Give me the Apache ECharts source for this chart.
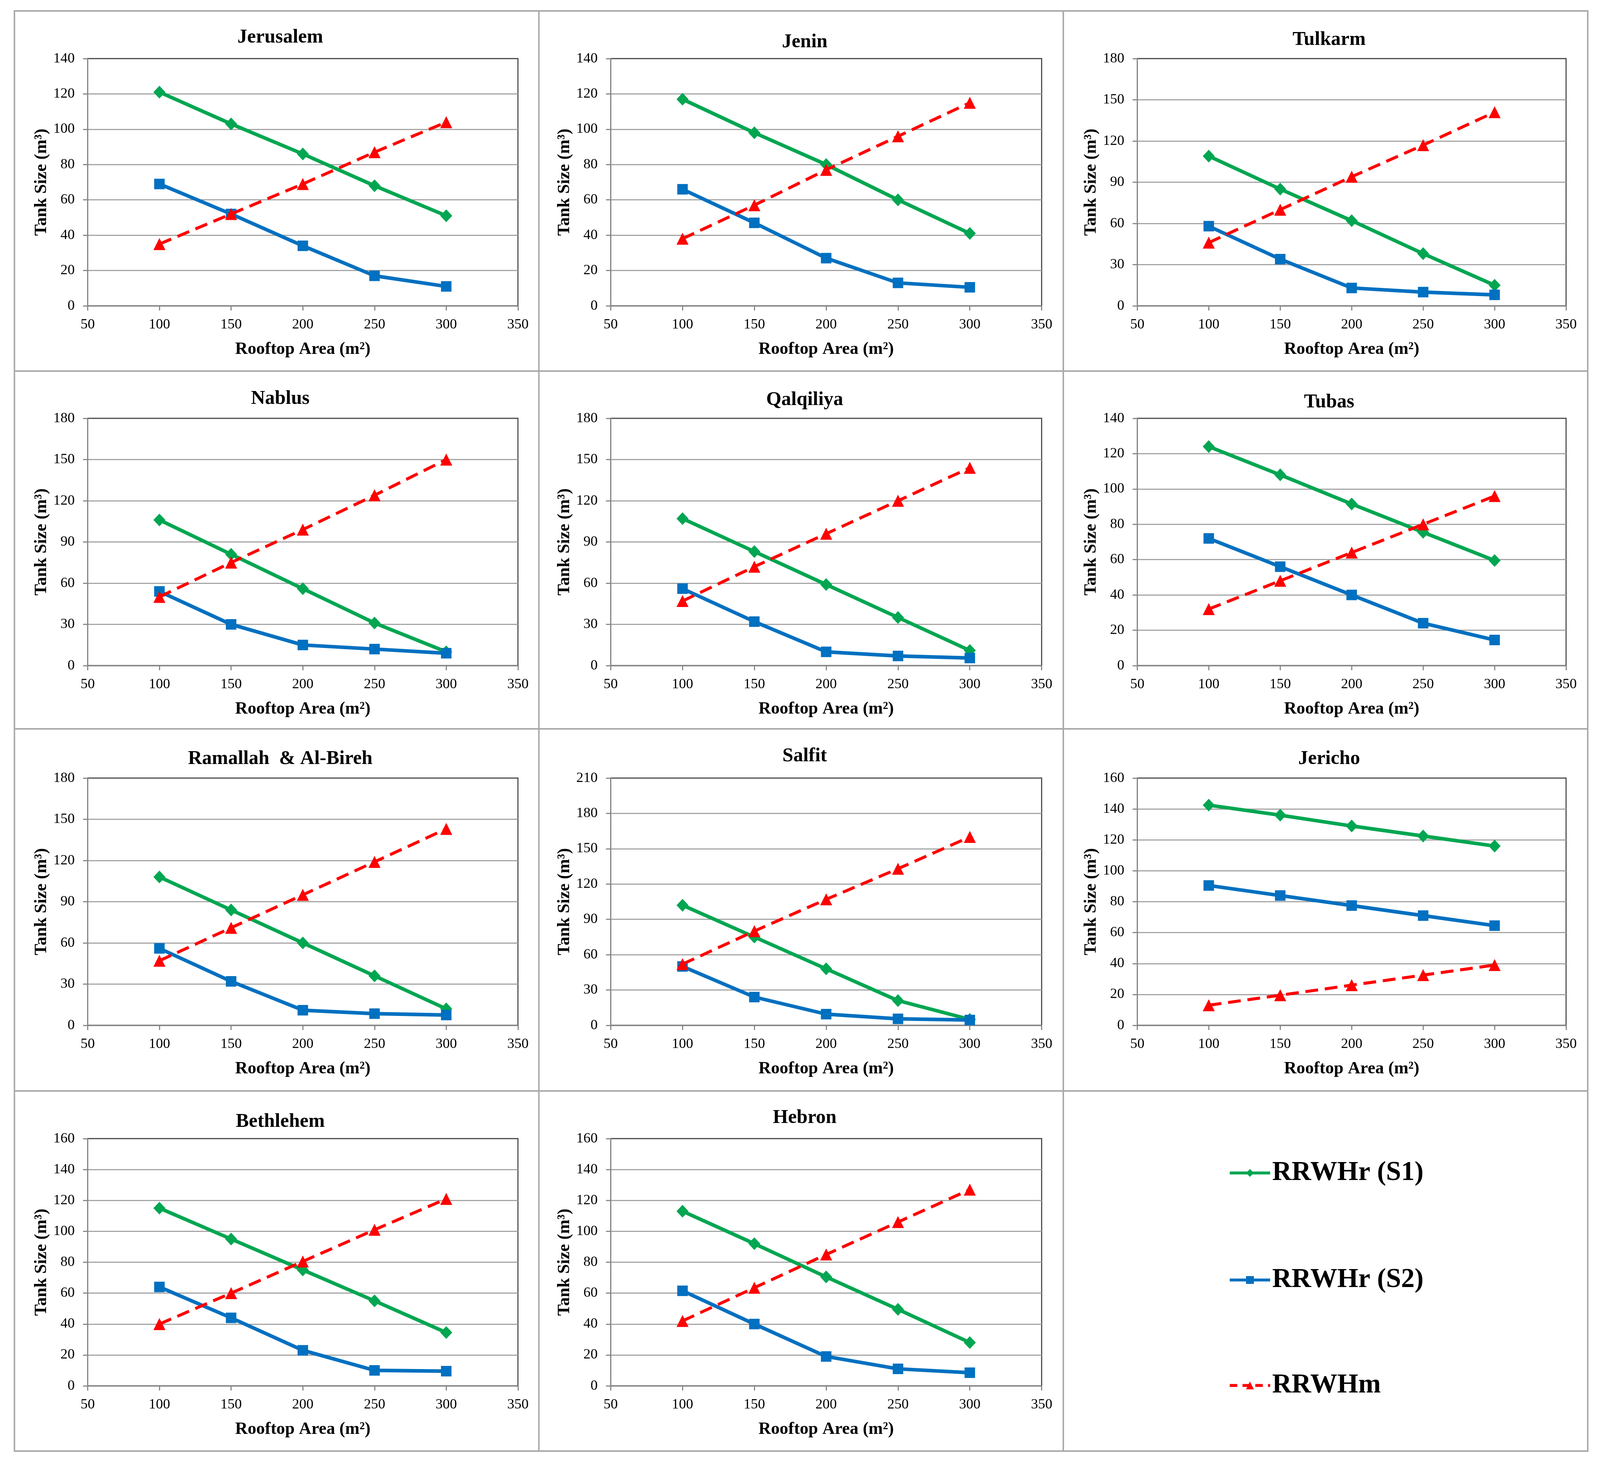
<!DOCTYPE html>
<html>
<head>
<meta charset="utf-8">
<script src="https://cdn.jsdelivr.net/npm/echarts@6/dist/echarts.min.js"></script>
<style>
  html, body { margin: 0; padding: 0; background: #ffffff; overflow: hidden; }
  #chart { width: 100vw; height: 100vh; }
</style>
</head>
<body>
<div id="chart"></div>
<script>
// ---------------- DATA ----------------
const areas = [100, 150, 200, 250, 300];
const districts = ['Jerusalem', 'Jenin', 'Tulkarm', 'Nablus', 'Qalqiliya', 'Tubas',
                   'Ramallah  & Al-Bireh', 'Salfit', 'Jericho', 'Bethlehem', 'Hebron'];
const seriesNames = ['RRWHr (S1)', 'RRWHr (S2)', 'RRWHm'];
const yMax  = [140, 140, 180, 180, 180, 140, 180, 210, 160, 160, 160];
const yStep = [20, 20, 30, 30, 30, 20, 30, 30, 20, 20, 20];
const xTicks = [50, 100, 150, 200, 250, 300, 350];

const s1 = [
  [121, 103, 86, 68, 51],
  [117, 98, 80, 60, 41],
  [109, 85, 62, 38, 15],
  [106, 81, 56, 31, 10],
  [107, 83, 59, 35, 11],
  [124, 108, 91.5, 75.5, 59.5],
  [108, 84, 60, 36, 12],
  [102, 75, 48, 21, 5],
  [142.5, 136, 129, 122.5, 116],
  [115, 95, 75, 55, 34.5],
  [113, 92, 70.5, 49.5, 28]
];
const s2 = [
  [69, 52, 34, 17, 11],
  [66, 47, 27, 13, 10.5],
  [58, 34, 13, 10, 8],
  [54, 30, 15, 12, 9],
  [56, 32, 10, 7, 5.5],
  [72, 56, 40, 24, 14.5],
  [56, 32, 11, 8.5, 7.5],
  [50, 24, 9.5, 5.5, 4.5],
  [90.5, 84, 77.5, 71, 64.5],
  [64, 44, 23, 10, 9.5],
  [61.5, 40, 19, 11, 8.5]
];
const rm = [
  [35, 52, 69, 87, 104],
  [38, 57, 77, 96, 115],
  [46, 70, 94, 117, 141],
  [50, 75, 99, 124, 150],
  [47, 72, 96, 120, 144],
  [32, 48, 64, 80, 96],
  [47, 71, 95, 119, 143],
  [52, 80, 107, 133, 160],
  [13, 19.5, 26, 32.5, 39],
  [40, 60, 80.5, 101, 121],
  [42, 63.5, 85, 106, 127]
];

// ---------------- LAYOUT (reference pixels, scaled to the real viewport) ----------------
const REF_W = 4433, REF_H = 3766;
const cellX = [40, 1493, 2946, 4399];
const cellY = [28, 950, 1866, 2793, 3715];
const gridLeft = [243, 1692, 3151];
const gridWidth = [1192, 1194, 1188];
const gridTop = [150, 1071, 1992, 2915];
const gridHeight = 633;
const titleGap = [54, 42, 48, 50, 47, 41, 49, 56, 49, 43, 53];
const legendCenter = [3003, 3277, 3547];

const el = document.getElementById('chart');
const W = el.clientWidth || window.innerWidth || REF_W;
const H = el.clientHeight || window.innerHeight || REF_H;
const sx = W / REF_W, sy = H / REF_H, fs = Math.sqrt(sx * sy);
const X = v => v * sx, Y = v => v * sy, F = v => v * fs;

const FONT = '"Liberation Serif", "Times New Roman", serif';
const colors = ['#00A651', '#0070C0', '#FF0000'];
const symbols = ['diamond', 'rect', 'triangle'];

const grid = [], xAxis = [], yAxis = [], series = [], title = [];
districts.forEach((name, i) => {
  const row = Math.floor(i / 3), col = i % 3;
  grid.push({
    left: X(gridLeft[col]), top: Y(gridTop[row]), width: X(gridWidth[col]), height: Y(gridHeight),
    show: true, borderColor: '#4a4a4a', borderWidth: F(3), backgroundColor: 'transparent'
  });
  title.push({
    text: name,
    left: X((cellX[col] + cellX[col + 1]) / 2 + 10),
    top: Y(gridTop[row] - titleGap[i]) - F(28),
    textAlign: 'center',
    padding: 0,
    textStyle: { fontFamily: FONT, fontWeight: 'bold', fontSize: F(52), lineHeight: F(56), color: '#000' }
  });
  xAxis.push({
    type: 'value', gridIndex: i, min: xTicks[0], max: xTicks[xTicks.length - 1], interval: 50,
    axisLine: { show: true, lineStyle: { color: '#868686', width: F(3) } },
    axisTick: { show: true, length: Y(12), lineStyle: { color: '#868686', width: F(3) } },
    axisLabel: { fontFamily: FONT, fontSize: F(38), color: '#000', margin: Y(30) },
    splitLine: { show: false },
    name: 'Rooftop Area (m²)', nameLocation: 'middle', nameGap: Y(90),
    nameTextStyle: { fontFamily: FONT, fontWeight: 'bold', fontSize: F(46), color: '#000' }
  });
  yAxis.push({
    type: 'value', gridIndex: i, min: 0, max: yMax[i], interval: yStep[i],
    axisLine: { show: true, lineStyle: { color: '#868686', width: F(3) } },
    axisTick: { show: true, length: X(13), lineStyle: { color: '#868686', width: F(3) } },
    axisLabel: { fontFamily: FONT, fontSize: F(38), color: '#000', margin: X(36) },
    splitLine: { show: true, showMinLine: false, showMaxLine: false, lineStyle: { color: '#a6a6a6', width: F(3) } },
    name: 'Tank Size (m³)', nameLocation: 'middle', nameGap: X(104), nameRotate: 90,
    nameTextStyle: { fontFamily: FONT, fontWeight: 'bold', fontSize: F(46), color: '#000' }
  });
  const sets = [s1[i], s2[i], rm[i]];
  const sizes = [[F(32), F(34)], F(28), F(32)];
  sets.forEach((vals, k) => {
    series.push({
      type: 'line', name: seriesNames[k], xAxisIndex: i, yAxisIndex: i,
      data: areas.map((a, j) => [a, vals[j]]),
      symbol: symbols[k], symbolSize: sizes[k],
      itemStyle: { color: colors[k] },
      lineStyle: { color: colors[k], width: F(k === 2 ? 8 : 9.5), type: k === 2 ? [F(34), F(18)] : 'solid' },
      z: 2 + k, animation: false
    });
  });
});

const legend = seriesNames.map((n, k) => ({
  data: [n], orient: 'vertical', left: X(3403), top: Y(legendCenter[k]) - F(36), padding: 0,
  itemWidth: X(112), itemHeight: F(26), selectedMode: false,
  lineStyle: { width: F(8), type: k === 2 ? [F(20), F(14)] : 'solid' },
  textStyle: { fontFamily: FONT, fontWeight: 'bold', fontSize: F(72), lineHeight: F(72), color: '#000' }
}));

// cell frame lines
const frame = { stroke: '#a9a9a9', lineWidth: F(4) };
const graphics = [];
graphics.push({ type: 'rect', shape: { x: X(cellX[0]), y: Y(cellY[0]), width: X(cellX[3] - cellX[0]), height: Y(cellY[4] - cellY[0]) },
  style: { fill: 'none', stroke: '#a9a9a9', lineWidth: F(4) }, silent: true });
[cellX[1], cellX[2]].forEach(x => graphics.push({ type: 'line', shape: { x1: X(x), y1: Y(cellY[0]), x2: X(x), y2: Y(cellY[4]) }, style: frame, silent: true }));
[cellY[1], cellY[2], cellY[3]].forEach(y => graphics.push({ type: 'line', shape: { x1: X(cellX[0]), y1: Y(y), x2: X(cellX[3]), y2: Y(y) }, style: frame, silent: true }));

const chart = echarts.init(el, null, { renderer: 'canvas', width: W, height: H });
chart.setOption({
  backgroundColor: '#ffffff',
  animation: false,
  title, legend, grid, xAxis, yAxis, series,
  graphic: graphics
});
</script>
</body>
</html>
